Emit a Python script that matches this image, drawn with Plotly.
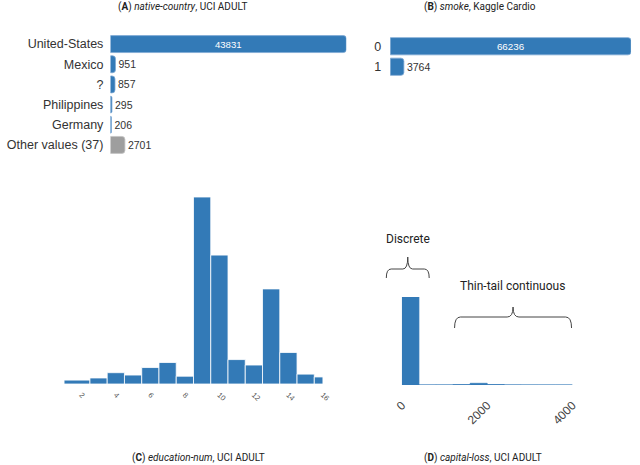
import plotly.graph_objects as go

# (A) native-country, UCI ADULT
countries = ["United-States", "Mexico", "?", "Philippines", "Germany", "Other values (37)"]
country_counts = [43831, 951, 857, 295, 206, 2701]

# (B) smoke, Kaggle Cardio
smoke_values = ["0", "1"]
smoke_counts = [66236, 3764]

# (C) education-num histogram (bin edges + counts)
edu_left = [1, 2.5, 3.5, 4.5, 5.5, 6.5, 7.5, 8.5, 9.5, 10.5, 11.5, 12.5, 13.5, 14.5, 15.5]
edu_right = [2.5, 3.5, 4.5, 5.5, 6.5, 7.5, 8.5, 9.5, 10.5, 11.5, 12.5, 13.5, 14.5, 15.5, 16]
edu_counts = [330, 509, 955, 756, 1389, 1812, 657, 15784, 10878, 2061, 1601, 8025, 2657, 834, 594]
edu_ticks = [2, 4, 6, 8, 10, 12, 14, 16]

# (D) capital-loss histogram
loss_left = [0, 400, 800, 1200, 1600, 2000, 2400, 2800, 3200, 3600]
loss_right = [400, 800, 1200, 1600, 2000, 2400, 2800, 3200, 3600, 4000]
loss_counts = [46560, 30, 40, 200, 900, 250, 60, 20, 10, 10]
loss_ticks = [0, 2000, 4000]

BLUE = "#337ab7"
BLUE_EDGE = "#7fa9d4"
GREY = "#9e9e9e"
GREY_EDGE = "#c4c4c4"
W, H = 640, 465
LABEL_FONT = "Helvetica Neue, Helvetica, Arial, Liberation Sans"
TITLE_FONT = "Roboto"


def px(x):
    return x / W


def py(y):
    return 1 - y / H


def brace(x1, x2, y_tip, y_mid, y_end, r=6):
    xm = (x1 + x2) / 2
    pts = [
        f"M {px(x1)},{py(y_end)}",
        f"Q {px(x1)},{py(y_mid)} {px(x1 + r)},{py(y_mid)}",
        f"L {px(xm - r)},{py(y_mid)}",
        f"Q {px(xm)},{py(y_mid)} {px(xm)},{py(y_tip)}",
        f"Q {px(xm)},{py(y_mid)} {px(xm + r)},{py(y_mid)}",
        f"L {px(x2 - r)},{py(y_mid)}",
        f"Q {px(x2)},{py(y_mid)} {px(x2)},{py(y_end)}",
    ]
    return " ".join(pts)


fig = go.Figure()

# A
fig.add_trace(go.Bar(
    x=country_counts, y=countries, orientation="h",
    marker=dict(color=[BLUE] * 5 + [GREY], cornerradius=3,
                line=dict(color=[BLUE_EDGE] * 5 + [GREY_EDGE], width=0.8)),
    text=country_counts,
    textposition=["inside"] + ["outside"] * 5,
    insidetextanchor="middle",
    insidetextfont=dict(color="white", size=10.5, family=LABEL_FONT),
    outsidetextfont=dict(color="#333", size=10.5, family=LABEL_FONT),
    cliponaxis=False,
    xaxis="x", yaxis="y",
))

# B
fig.add_trace(go.Bar(
    x=smoke_counts, y=smoke_values, orientation="h",
    marker=dict(color=BLUE, cornerradius=3, line=dict(color=BLUE_EDGE, width=0.8)),
    text=smoke_counts,
    textposition=["inside", "outside"],
    insidetextanchor="middle",
    insidetextfont=dict(color="white", size=10.5, family=LABEL_FONT),
    outsidetextfont=dict(color="#333", size=10.5, family=LABEL_FONT),
    cliponaxis=False,
    xaxis="x2", yaxis="y2",
))

# C
fig.add_trace(go.Bar(
    x=[(a + b) / 2 for a, b in zip(edu_left, edu_right)],
    width=[b - a for a, b in zip(edu_left, edu_right)],
    y=edu_counts,
    marker=dict(color=BLUE, line=dict(color="white", width=0.8)),
    xaxis="x3", yaxis="y3",
))

# D
fig.add_trace(go.Bar(
    x=[(a + b) / 2 for a, b in zip(loss_left, loss_right)],
    width=[b - a for a, b in zip(loss_left, loss_right)],
    y=loss_counts,
    marker=dict(color=BLUE, line=dict(color=BLUE, width=0.7)),
    cliponaxis=False,
    xaxis="x4", yaxis="y4",
))

hidden = dict(showgrid=False, zeroline=False, showline=False, showticklabels=False, ticks="")
cat_font = dict(family=LABEL_FONT, size=12.5, color="#333")

fig.update_layout(
    width=W, height=H,
    margin=dict(l=0, r=0, t=0, b=0),
    paper_bgcolor="white", plot_bgcolor="white",
    showlegend=False,
    bargap=0.16,
    xaxis=dict(hidden, domain=[px(105), px(347)], range=[0, 43831]),
    yaxis=dict(domain=[py(155), py(34)], autorange="reversed", showgrid=False,
               zeroline=False, showline=False, ticks="", tickfont=cat_font,
               ticklabelstandoff=6),
    xaxis2=dict(hidden, domain=[px(392), px(639)], range=[0, 66236], anchor="y2"),
    yaxis2=dict(domain=[py(77), py(36)], autorange="reversed", showgrid=False,
                zeroline=False, showline=False, ticks="", tickfont=cat_font,
                ticklabelstandoff=8, anchor="x2"),
    xaxis3=dict(domain=[px(57.5), px(323)], range=[1, 16], anchor="y3",
                showgrid=False, zeroline=False, showline=False, ticks="",
                tickvals=edu_ticks, tickangle=45, ticklabelstandoff=4,
                tickfont=dict(family=LABEL_FONT, size=7.5, color="#555")),
    yaxis3=dict(hidden, domain=[py(384), py(197)], range=[0, 15784], anchor="x3"),
    xaxis4=dict(domain=[px(404), px(579)], range=[0, 4000], anchor="y4",
                showgrid=False, zeroline=False, showline=False, ticks="",
                tickvals=loss_ticks, tickangle=-45, ticklabelstandoff=10,
                tickfont=dict(family=LABEL_FONT, size=12, color="#444")),
    yaxis4=dict(hidden, domain=[py(385), py(297)], range=[0, 46560], anchor="x4"),
)

titles = [
    ("(<b>A</b>) <i>native-country</i>, UCI ADULT", 179, 7),
    ("(<b>B</b>) <i>smoke</i>, Kaggle Cardio", 484, 7),
    ("(<b>C</b>) <i>education-num</i>, UCI ADULT", 195, 458),
    ("(<b>D</b>) <i>capital-loss</i>, UCI ADULT", 487, 458),
]
for text, x, y in titles:
    fig.add_annotation(text=text, x=px(x), y=py(y), xref="paper", yref="paper",
                       showarrow=False, xanchor="center", yanchor="middle",
                       font=dict(family=TITLE_FONT, size=10, color="#222"))

fig.add_annotation(text="Discrete", x=px(410), y=py(239), xref="paper", yref="paper",
                   showarrow=False, xanchor="center", yanchor="middle",
                   font=dict(family=TITLE_FONT, size=12, color="#222"))
fig.add_annotation(text="Thin-tail continuous", x=px(517.5), y=py(286), xref="paper",
                   yref="paper", showarrow=False, xanchor="center", yanchor="middle",
                   font=dict(family=TITLE_FONT, size=12, color="#222"))

fig.add_shape(type="path", xref="paper", yref="paper",
              path=brace(388, 432, 257, 269, 278, r=5),
              line=dict(color="#444", width=1))
fig.add_shape(type="path", xref="paper", yref="paper",
              path=brace(458, 578, 307, 317, 328, r=6),
              line=dict(color="#444", width=1))

# drop the default 8px body margin so the figure sits at the window origin
fig.write_html("out.html", config={"displayModeBar": False},
               post_script="document.body.style.margin='0';")
